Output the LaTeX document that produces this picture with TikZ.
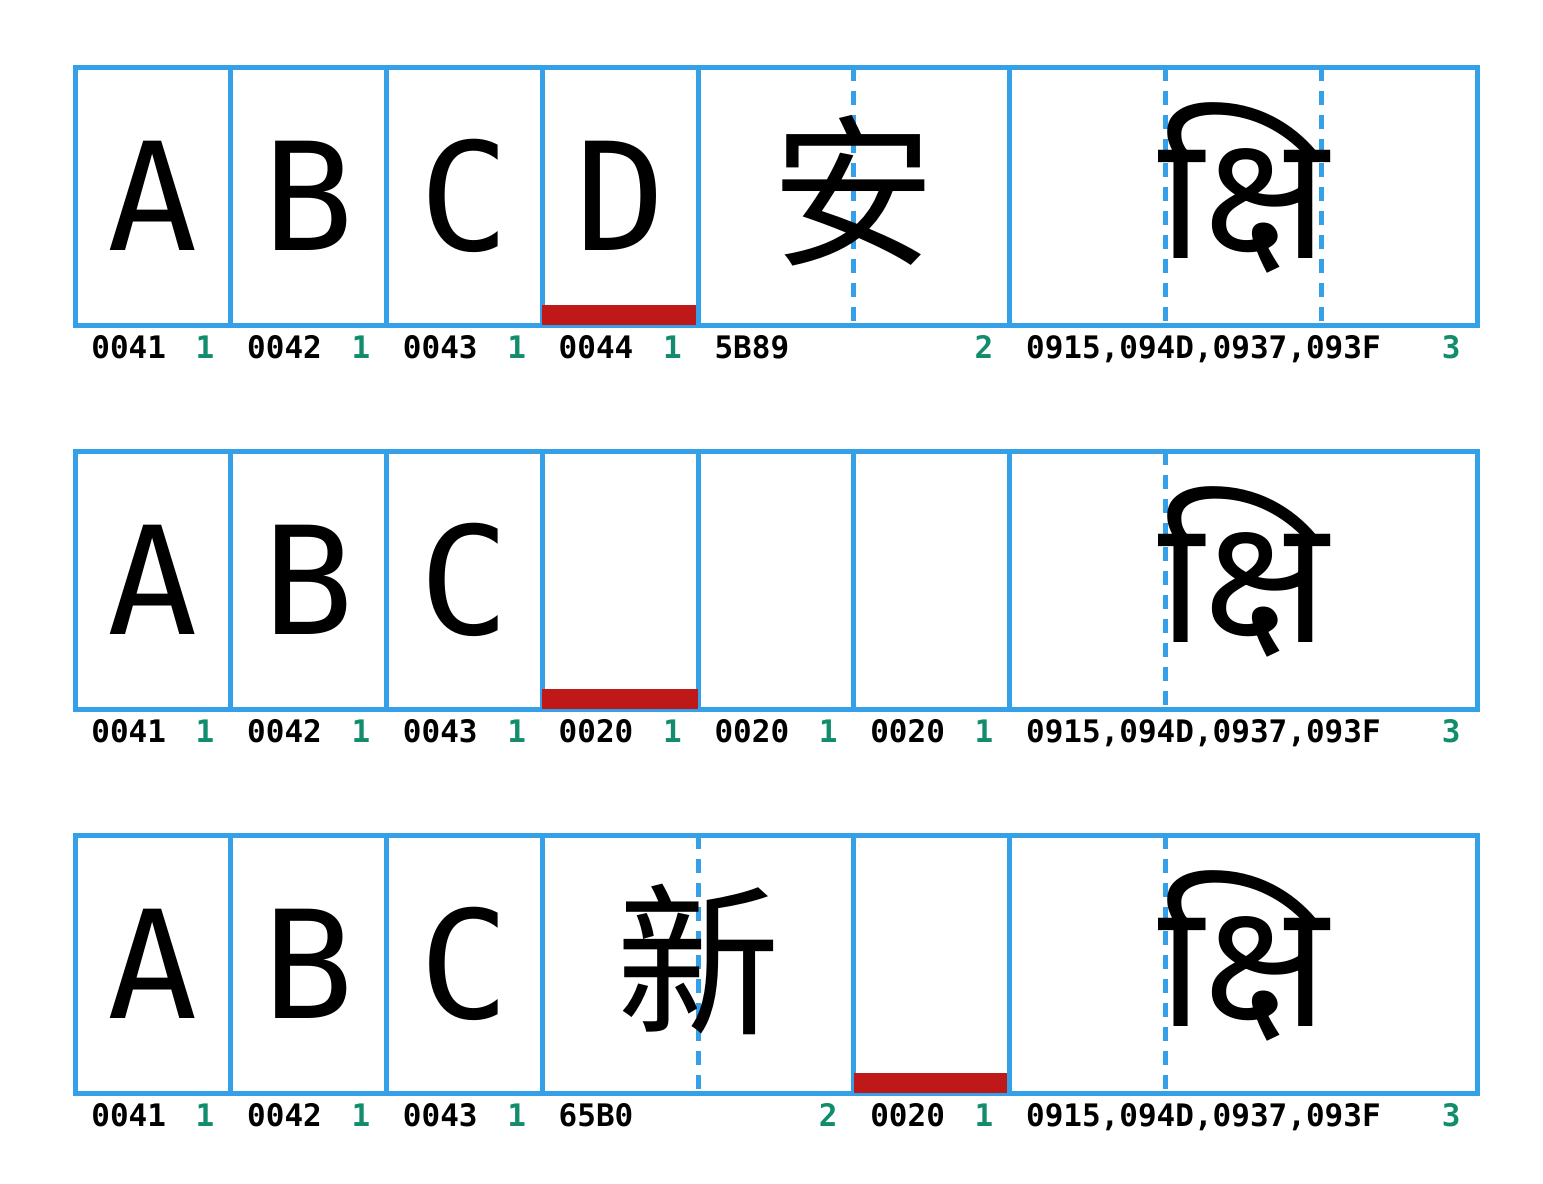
\documentclass[tikz,border=0pt]{standalone}
\usepackage{fontspec}
\setmonofont{DejaVu Sans Mono}
\newfontfamily\hanfont{Noto Sans CJK SC}
\newfontfamily\devafont[Script=Devanagari]{Noto Sans}
\usetikzlibrary{calc}
\definecolor{cellblue}{RGB}{52,160,232}
\definecolor{markred}{RGB}{190,24,24}
\definecolor{countgreen}{RGB}{19,140,110}

\begin{document}
\begin{tikzpicture}[x=0.5pt,y=-0.5pt]
  \tikzstyle{cell}=[draw=cellblue,line width=2.5pt,minimum height=129pt,minimum width=77.89pt,inner sep=0pt,outer sep=0pt]
  \tikzstyle{wide}=[cell,minimum width=155.78pt]
  \tikzstyle{widest}=[cell,minimum width=233.67pt]
  \tikzstyle{glyph}=[inner sep=0pt,font=\ttfamily\fontsize{75}{75}\selectfont]
  \tikzstyle{hanglyph}=[inner sep=0pt,yshift=2.5pt,font=\hanfont\fontsize{82}{82}\selectfont]
  \tikzstyle{devaglyph}=[inner sep=0pt,yshift=4pt,font=\devafont\fontsize{87}{87}\selectfont]
  \tikzstyle{divider}=[cellblue,line width=2.5pt,dash pattern=on 7pt off 5pt]
  \tikzstyle{marker}=[fill=markred]
  \tikzstyle{hexcode}=[anchor=base west,inner sep=0pt,font=\ttfamily\bfseries\fontsize{15.5}{15.5}\selectfont]
  \tikzstyle{cols}=[anchor=base east,inner sep=0pt,text=countgreen,font=\ttfamily\bfseries\fontsize{15.5}{15.5}\selectfont]
  \useasboundingbox (0,0) rectangle (1543,1184);

  % row 1: A B C D, 5B89 (2), ksi (3)
  \foreach \ch/\hex [count=\i from 0] in {A/0041,B/0042,C/0043,D/0044}{
    \node[cell] (a\i) at ({152.89+155.78*\i},196) {};
    \node[glyph] (g-a\i) at (a\i) {\ch};
    \node[hexcode] (h-a\i) at ($(a\i.south west)+(16,33)$) {\hex};
    \node[cols] (n-a\i) at ($(a\i.south east)+(-16,33)$) {1};
  }
  \fill[marker] ($(a3.south west)+(0,-20)$) rectangle (a3.south east);
  \node[wide] (a45) at (853.9,196) {};
  \draw[divider] (a45.north) -- (a45.south);
  \node[hanglyph] (g-a45) at (a45) {安};
  \node[hexcode] (h-a45) at ($(a45.south west)+(16,33)$) {5B89};
  \node[cols] (n-a45) at ($(a45.south east)+(-16,33)$) {2};
  \node[widest] (a678) at (1243.35,196) {};
  \draw[divider] ($(a678.north west)!1/3!(a678.north east)$) -- ($(a678.south west)!1/3!(a678.south east)$);
  \draw[divider] ($(a678.north west)!2/3!(a678.north east)$) -- ($(a678.south west)!2/3!(a678.south east)$);
  \node[devaglyph] (g-a678) at (a678) {क्षि};
  \node[hexcode] (h-a678) at ($(a678.south west)+(16,33)$) {0915,094D,0937,093F};
  \node[cols] (n-a678) at ($(a678.south east)+(-16,33)$) {3};

  % row 2: A B C, three spaces, ksi (3)
  \foreach \ch/\hex [count=\i from 0] in {A/0041,B/0042,C/0043,/0020,/0020,/0020}{
    \node[cell] (b\i) at ({152.89+155.78*\i},580) {};
    \node[glyph] (g-b\i) at (b\i) {\ch};
    \node[hexcode] (h-b\i) at ($(b\i.south west)+(16,33)$) {\hex};
    \node[cols] (n-b\i) at ($(b\i.south east)+(-16,33)$) {1};
  }
  \fill[marker] ($(b3.south west)+(0,-20)$) rectangle (b3.south east);
  \node[widest] (b678) at (1243.35,580) {};
  \draw[divider] ($(b678.north west)!1/3!(b678.north east)$) -- ($(b678.south west)!1/3!(b678.south east)$);
  \node[devaglyph] (g-b678) at (b678) {क्षि};
  \node[hexcode] (h-b678) at ($(b678.south west)+(16,33)$) {0915,094D,0937,093F};
  \node[cols] (n-b678) at ($(b678.south east)+(-16,33)$) {3};

  % row 3: A B C, 65B0 (2), space, ksi (3)
  \foreach \ch/\hex [count=\i from 0] in {A/0041,B/0042,C/0043}{
    \node[cell] (c\i) at ({152.89+155.78*\i},964) {};
    \node[glyph] (g-c\i) at (c\i) {\ch};
    \node[hexcode] (h-c\i) at ($(c\i.south west)+(16,33)$) {\hex};
    \node[cols] (n-c\i) at ($(c\i.south east)+(-16,33)$) {1};
  }
  \node[wide] (c34) at (698.12,964) {};
  \draw[divider] (c34.north) -- (c34.south);
  \node[hanglyph] (g-c34) at (c34) {新};
  \node[hexcode] (h-c34) at ($(c34.south west)+(16,33)$) {65B0};
  \node[cols] (n-c34) at ($(c34.south east)+(-16,33)$) {2};
  \node[cell] (c5) at (931.79,964) {};
  \fill[marker] ($(c5.south west)+(0,-20)$) rectangle (c5.south east);
  \node[hexcode] (h-c5) at ($(c5.south west)+(16,33)$) {0020};
  \node[cols] (n-c5) at ($(c5.south east)+(-16,33)$) {1};
  \node[widest] (c678) at (1243.35,964) {};
  \draw[divider] ($(c678.north west)!1/3!(c678.north east)$) -- ($(c678.south west)!1/3!(c678.south east)$);
  \node[devaglyph] (g-c678) at (c678) {क्षि};
  \node[hexcode] (h-c678) at ($(c678.south west)+(16,33)$) {0915,094D,0937,093F};
  \node[cols] (n-c678) at ($(c678.south east)+(-16,33)$) {3};
\end{tikzpicture}
\end{document}
